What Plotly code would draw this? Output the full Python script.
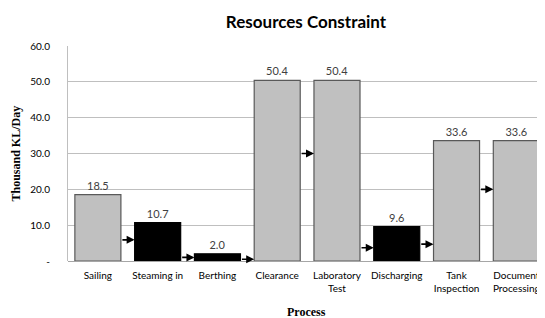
import plotly.graph_objects as go

categories = ["Sailing", "Steaming in", "Berthing", "Clearance", "Laboratory<br>Test",
              "Discharging", "Tank<br>Inspection", "Document<br>Processing"]
values = [18.5, 10.7, 2.0, 50.4, 50.4, 9.6, 33.6, 33.6]
is_dark = [False, True, True, False, False, True, False, False]
arrow_levels = [5.9, 1.0, 0.5, 30.0, 3.7, 4.7, 20.0, 10.0]
y_ticks = [0, 10, 20, 30, 40, 50, 60]
y_ticktext = ["-", "10.0", "20.0", "30.0", "40.0", "50.0", "60.0"]

bar_w = 0.77
half = bar_w / 2

fill = ["#000000" if d else "#c0c0c0" for d in is_dark]
line_c = ["#000000" if d else "#595959" for d in is_dark]

# page body has an 8px default margin; figure sized so it fits the window
W, H = 537, 310
ML, MT, MR, MB = 60, 38, 0, 57
PW, PH = W - ML - MR, H - MT - MB

fig = go.Figure(go.Bar(
    x=list(range(len(categories))), y=values, width=bar_w,
    marker=dict(color=fill, line=dict(color=line_c, width=1.2)),
    text=[f"{v:.1f}" for v in values], textposition="outside",
    textfont=dict(family="Lato", size=11, color="#404040"),
    cliponaxis=False,
))

for i, lvl in enumerate(arrow_levels):
    x0 = i + half
    if i < len(categories) - 1:
        x1 = i + 1 - half
        fig.add_annotation(x=x1, y=lvl, ax=x0, ay=lvl, xref="x", yref="y",
                           axref="x", ayref="y", showarrow=True, arrowhead=2,
                           arrowsize=1, arrowwidth=1.6, arrowcolor="#000000",
                           standoff=0, text="")
    else:
        fig.add_shape(type="line", x0=x0, x1=x0 + 0.3, y0=lvl, y1=lvl,
                      xref="x", yref="y", line=dict(color="#000000", width=1.6))

fig.add_annotation(text="<b>Thousand KL/Day</b>", xref="paper", yref="paper",
                   x=(7 - ML) / PW, y=0.5, xanchor="center", yanchor="middle",
                   textangle=-90, showarrow=False,
                   font=dict(family="Liberation Serif", size=12, color="#000000"))
fig.add_annotation(text="<b>Process</b>", xref="paper", yref="paper",
                   x=0.5, y=-(304 - (H - MB)) / PH, xanchor="center", yanchor="middle",
                   showarrow=False,
                   font=dict(family="Liberation Serif", size=12, color="#000000"))

fig.update_layout(
    width=W, height=H,
    margin=dict(l=ML, r=MR, t=MT, b=MB, autoexpand=False),
    paper_bgcolor="white", plot_bgcolor="white",
    showlegend=False,
    title=dict(text="<b>Resources Constraint</b>", x=298 / W, xanchor="center",
               xref="container", yref="container",
               y=1 - 14 / H, yanchor="middle", automargin=False,
               font=dict(family="Lato", size=17, color="#000000")),
    xaxis=dict(range=[-0.5, 7.48], tickmode="array", automargin=False,
               tickvals=list(range(len(categories))), ticktext=categories,
               tickfont=dict(family="Lato", size=10, color="#000000"),
               showgrid=False, showline=False, zeroline=False, ticks="",
               ticklabelstandoff=7),
    yaxis=dict(range=[0, 60], tickvals=y_ticks, ticktext=y_ticktext, automargin=False,
               tickfont=dict(family="Lato", size=10, color="#000000"),
               showgrid=True, gridcolor="#bfbfbf", gridwidth=1,
               showline=True, linecolor="#bfbfbf", linewidth=1,
               zeroline=True, zerolinecolor="#a6a6a6", zerolinewidth=1,
               ticks="", ticklabelstandoff=15),
)

fig.write_html("out.html")
